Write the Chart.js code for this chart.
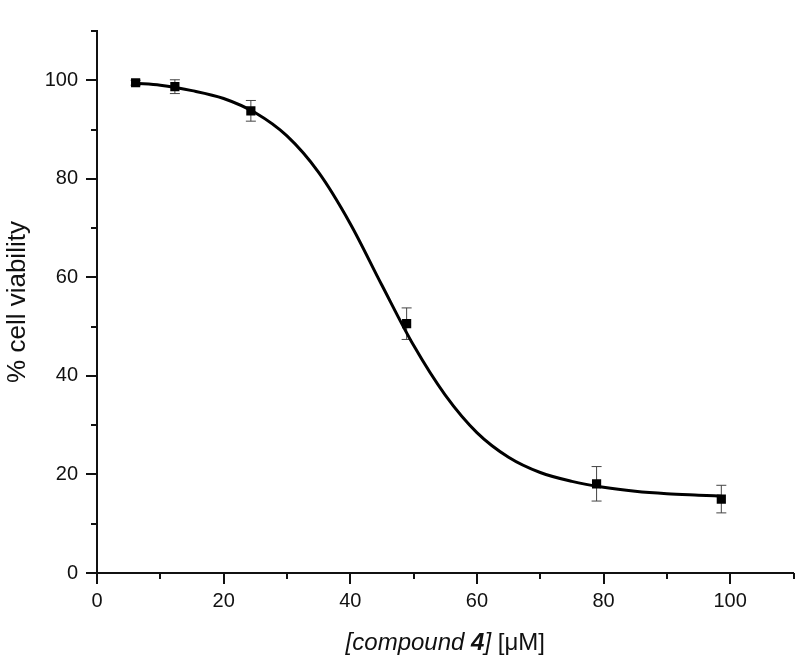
<!DOCTYPE html>
<html lang="en">
<head>
    <meta charset="UTF-8">
    <title>Cell viability vs compound 4</title>
    <script src="https://cdn.jsdelivr.net/npm/chart.js"></script>
    <style>
        html, body { margin: 0; padding: 0; background: #fff; }
        .wrap { width: 800px; height: 660px; }
    </style>
</head>
<body>
    <div class="wrap"><canvas id="grafico" width="800" height="660"></canvas></div>

    <script>
        const concentration = [6.1, 12.3, 24.3, 48.9, 78.9, 98.6];
        const viability = [99.5, 98.7, 93.8, 50.6, 18.1, 15.0];
        const viabilityErr = [0.5, 1.4, 2.1, 3.2, 3.5, 2.8];

        // fitted curve, points
        const fitX = [6, 10, 15, 20, 25, 30, 35, 40, 45, 50, 55, 60, 65, 70, 75, 80, 85, 90, 95, 98.6];
        const fitY = [99.4, 99.0, 97.9, 96.3, 93.4, 88.7, 81.3, 70.9, 58.4, 46.2, 36.1, 28.5, 23.5, 20.4, 18.6, 17.4, 16.6, 16.1, 15.8, 15.6];

        const xMax = 110, yMax = 110;
        const FONT = '"Liberation Sans", Arial, sans-serif';

        // error bars + minor/major ticks + x axis title
        const extras = {
            id: 'extras',
            beforeDatasetsDraw(chart) {
                const ctx = chart.ctx, xs = chart.scales.x, ys = chart.scales.y;
                ctx.save();
                ctx.strokeStyle = '#444';
                ctx.lineWidth = 1;
                concentration.forEach((c, i) => {
                    const px = xs.getPixelForValue(c);
                    const top = ys.getPixelForValue(viability[i] + viabilityErr[i]);
                    const bot = ys.getPixelForValue(viability[i] - viabilityErr[i]);
                    ctx.beginPath();
                    ctx.moveTo(px, top); ctx.lineTo(px, bot);
                    ctx.moveTo(px - 5, top); ctx.lineTo(px + 5, top);
                    ctx.moveTo(px - 5, bot); ctx.lineTo(px + 5, bot);
                    ctx.stroke();
                });
                ctx.restore();
            },
            afterDraw(chart) {
                const ctx = chart.ctx, xs = chart.scales.x, ys = chart.scales.y;
                const area = chart.chartArea;
                ctx.save();
                ctx.strokeStyle = '#111';
                ctx.lineWidth = 2;
                ctx.beginPath();
                for (let v = 0; v <= xMax; v += 10) {
                    const px = Math.round(xs.getPixelForValue(v));
                    const len = v % 20 === 0 ? 11 : 6;
                    ctx.moveTo(px, area.bottom); ctx.lineTo(px, area.bottom + len);
                }
                for (let v = 0; v <= yMax; v += 10) {
                    const py = Math.round(ys.getPixelForValue(v));
                    const len = v % 20 === 0 ? 11 : 6;
                    ctx.moveTo(area.left, py); ctx.lineTo(area.left - len, py);
                }
                ctx.stroke();

                // x title with mixed styles
                const parts = [
                    { t: '[compound ', f: 'italic 24px ' + FONT },
                    { t: '4', f: 'italic bold 24px ' + FONT },
                    { t: ']', f: 'italic 24px ' + FONT },
                    { t: ' [\u03BCM]', f: '24px ' + FONT }
                ];
                let total = 0;
                parts.forEach(p => { ctx.font = p.f; p.w = ctx.measureText(p.t).width; total += p.w; });
                let x = (area.left + area.right) / 2 - total / 2;
                ctx.fillStyle = '#111';
                ctx.textBaseline = 'alphabetic';
                parts.forEach(p => { ctx.font = p.f; ctx.fillText(p.t, x, 650); x += p.w; });
                ctx.restore();
            }
        };

        new Chart(document.getElementById('grafico').getContext('2d'), {
            type: 'scatter',
            data: {
                datasets: [
                    {
                        label: 'fit',
                        data: fitX.map((x, i) => ({ x: x, y: fitY[i] })),
                        showLine: true,
                        borderColor: '#000',
                        borderWidth: 3,
                        pointRadius: 0,
                        cubicInterpolationMode: 'monotone',
                        order: 2
                    },
                    {
                        label: 'viability',
                        data: concentration.map((x, i) => ({ x: x, y: viability[i] })),
                        pointStyle: 'rect',
                        pointRadius: 6.5,
                        backgroundColor: '#000',
                        borderColor: '#000',
                        borderWidth: 0,
                        order: 1
                    }
                ]
            },
            options: {
                responsive: false,
                animation: false,
                layout: { padding: { top: 6, right: 6, left: 0, bottom: 0 } },
                plugins: { legend: { display: false }, tooltip: { enabled: false } },
                scales: {
                    x: {
                        type: 'linear', min: 0, max: xMax,
                        grid: { display: false, drawTicks: false },
                        border: { display: true, color: '#111', width: 2 },
                        ticks: { stepSize: 20, includeBounds: false, padding: 16, color: '#111', font: { family: FONT, size: 20 }, maxRotation: 0 },
                        afterFit(s) { s.height = 87; }
                    },
                    y: {
                        type: 'linear', min: 0, max: yMax,
                        grid: { display: false, drawTicks: false },
                        border: { display: true, color: '#111', width: 2 },
                        ticks: { stepSize: 20, includeBounds: false, padding: 19, color: '#111', font: { family: FONT, size: 20 } },
                        title: { display: true, text: '% cell viability', color: '#111', font: { family: FONT, size: 26 }, padding: { top: 2, bottom: 0 } },
                        afterFit(s) { s.width = 97; }
                    }
                }
            },
            plugins: [extras]
        });
    </script>
</body>
</html>
